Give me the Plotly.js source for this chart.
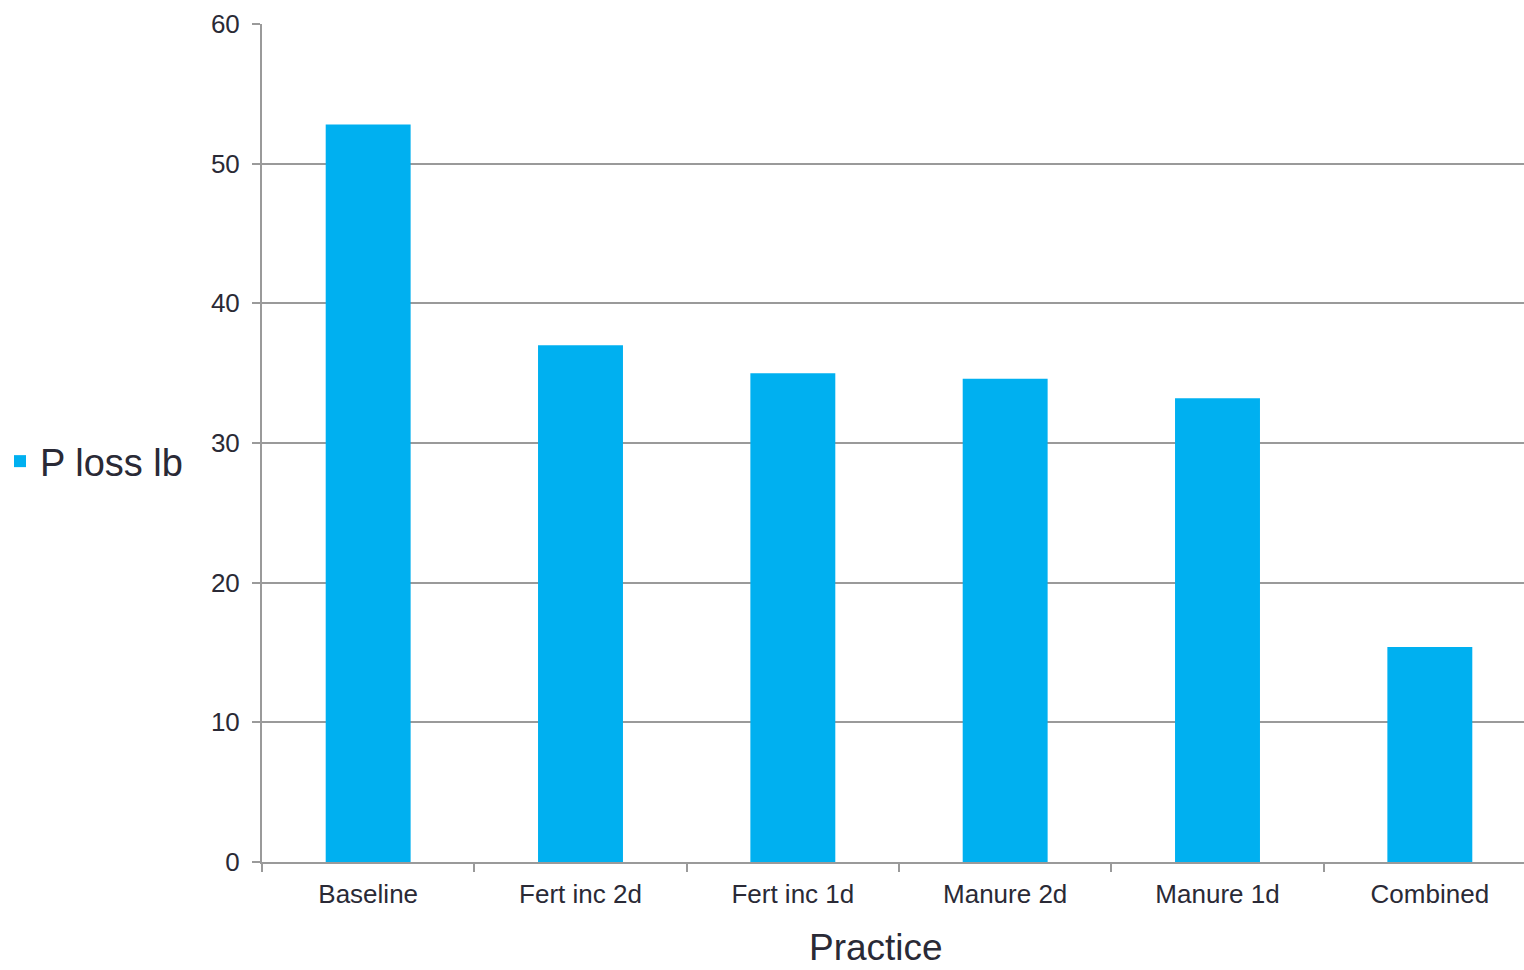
<!DOCTYPE html>
<html>
<head>
<meta charset="utf-8">
<script src="https://cdn.plot.ly/plotly-3.0.1.min.js"></script>
<style>html,body{margin:0;padding:0;background:#fff;overflow:hidden;width:1524px;height:970px;}#chart{width:1536px;height:970px;}</style>
</head>
<body>
<div id="chart"></div>
<script>
const categories = ["Baseline", "Fert inc 2d", "Fert inc 1d", "Manure 2d", "Manure 1d", "Combined"];
const pLossLb = [52.8, 37.0, 35.0, 34.6, 33.2, 15.4];
const seriesName = "P loss lb";
const xTitle = "Practice";

const textColor = "#2a2a36";
const gridColor = "#9a9a9a";

const trace = {
  type: "bar",
  x: categories,
  y: pLossLb,
  name: seriesName,
  marker: {color: "#00b0f0"},
  showlegend: true,
  hoverinfo: "x+y"
};

const layout = {
  width: 1536,
  height: 970,
  margin: {l: 261, r: 0, t: 24, b: 108},
  paper_bgcolor: "#ffffff",
  plot_bgcolor: "#ffffff",
  font: {family: "Liberation Sans, Arial, sans-serif", color: textColor, size: 26},
  bargap: 0.6,
  showlegend: true,
  legend: {
    x: -0.2055, xanchor: "left", y: 0.478, yanchor: "middle",
    font: {size: 38, color: textColor},
    bgcolor: "rgba(0,0,0,0)",
    itemwidth: 30
  },
  annotations: [{
    text: xTitle, xref: "paper", yref: "paper",
    x: 0.482, y: -0.1015, xanchor: "center", yanchor: "middle",
    showarrow: false, font: {size: 37, color: textColor}
  }],
  xaxis: {
    type: "category",
    showline: true, linecolor: gridColor, linewidth: 2,
    ticks: "outside", tickson: "boundaries", ticklen: 8, tickcolor: gridColor, tickwidth: 2,
    ticklabelstandoff: 8,
    showgrid: false, zeroline: false,
    tickfont: {size: 26, color: textColor},
    automargin: false,
    fixedrange: true
  },
  yaxis: {
    range: [0, 60], dtick: 10, tick0: 0,
    showline: true, linecolor: gridColor, linewidth: 2,
    ticks: "outside", ticklen: 8, tickcolor: gridColor, tickwidth: 2,
    ticklabelstandoff: 7,
    showgrid: true, gridcolor: gridColor, gridwidth: 2,
    zeroline: false,
    tickfont: {size: 26, color: textColor},
    automargin: false,
    fixedrange: true
  }
};

Plotly.newPlot("chart", [trace], layout, {displayModeBar: false, staticPlot: true});
</script>
</body>
</html>
